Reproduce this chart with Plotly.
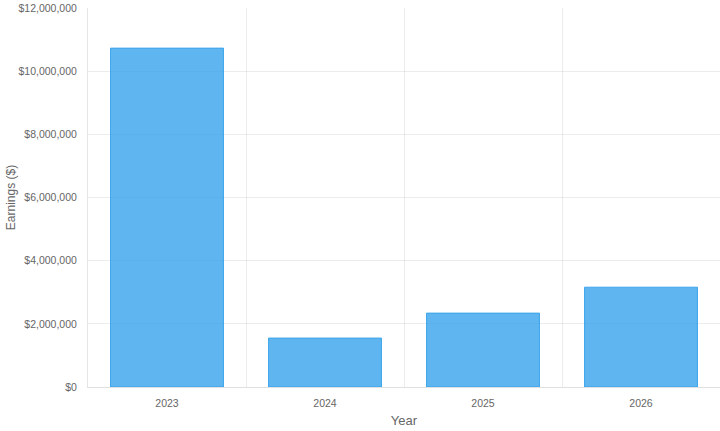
import plotly.graph_objects as go

years = ["2023", "2024", "2025", "2026"]
earnings = [10730000, 1550000, 2340000, 3160000]

y_ticks = [0, 2000000, 4000000, 6000000, 8000000, 10000000, 12000000]
y_tick_labels = ["$0", "$2,000,000", "$4,000,000", "$6,000,000",
                 "$8,000,000", "$10,000,000", "$12,000,000"]


def main():
    fig = go.Figure()
    fig.add_trace(go.Bar(
        x=years, y=earnings,
        marker=dict(color="rgba(54,162,235,0.8)",
                    line=dict(color="rgba(54,162,235,0.9)", width=1)),
        hoverinfo="skip",
    ))

    font = "Liberation Sans, Helvetica, Arial, sans-serif"
    grid = "rgba(0,0,0,0.075)"
    fig.update_layout(
        width=720, height=431,
        margin=dict(l=88, r=0, t=8, b=44),
        paper_bgcolor="white", plot_bgcolor="white",
        bargap=0.285,
        showlegend=False,
        font=dict(family=font, color="#666666", size=10.5),
    )
    fig.update_xaxes(
        type="category", range=[-0.5, 3.5],
        tickson="boundaries", ticks="", ticklabelstandoff=6,
        showgrid=True, gridcolor=grid, gridwidth=1,
        showline=True, linecolor="rgba(0,0,0,0.12)",
        title=dict(text="Year", font=dict(size=13, color="#666666"), standoff=8),
        automargin=False,
    )
    fig.update_yaxes(
        range=[0, 12000000], tickvals=y_ticks, ticktext=y_tick_labels,
        showgrid=True, gridcolor=grid, gridwidth=1,
        zeroline=False, showline=True, linecolor="rgba(0,0,0,0.1)",
        ticks="", ticklabelstandoff=8,
        title=dict(text="Earnings ($)", font=dict(size=12, color="#666666"), standoff=0),
        automargin=False,
    )
    # the page's default body margin pushes the chart off by 8px
    fig.write_html("out.html", config={"displayModeBar": False},
                   post_script="document.body.style.margin='0';")


if __name__ == '__main__':
    main()
